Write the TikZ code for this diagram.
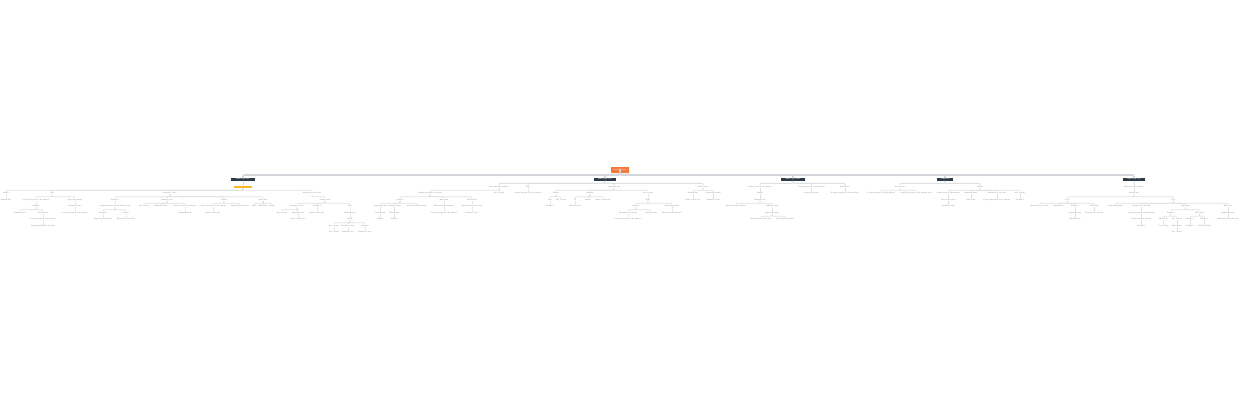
\documentclass[tikz,border=0pt]{standalone}
\usepackage{tikz}
\definecolor{rootorange}{HTML}{F5793B}
\definecolor{headdark}{HTML}{2E3A46}
\definecolor{hiliteyellow}{HTML}{F7B924}
\definecolor{linkgray}{HTML}{DDE0E3}
\definecolor{trunkgray}{HTML}{D3D7DB}
\definecolor{leaftext}{HTML}{777777}
\begin{document}
\begin{tikzpicture}[x=1mm,y=-1mm,
    leaf/.style={font=\fontsize{5}{6}\selectfont\sffamily, text=leaftext, fill=white,
        rounded corners=0.6mm, inner sep=0.4mm, text height=1.5mm, text depth=0.4mm},
    head/.style={font=\fontsize{5}{6}\selectfont\sffamily\bfseries, text=white, fill=headdark,
        minimum width=#1, minimum height=2.6mm, inner sep=0.3mm},
    hilite/.style={fill=hiliteyellow, minimum width=18mm, minimum height=1.8mm, inner sep=0pt},
    topic/.style={font=\fontsize{6}{7}\selectfont\sffamily, text=white, fill=rootorange,
        minimum width=18mm, minimum height=6mm, rounded corners=0.5mm},
    link/.style={draw=linkgray, line width=0.7mm, rounded corners=1mm},
    branch/.style={link, line width=1mm},
    trunk/.style={draw=trunkgray, line width=1.7mm, rounded corners=2mm}]

\useasboundingbox (0,0) rectangle (1240,400);

\node[topic] (root) at (620,170) {Central Topic};
\node[head=24mm] (h1) at (243,179.5) {Main Topic One};
\node[head=22mm] (h2) at (605,179.5) {Main Topic Two};
\node[head=24mm] (h3) at (793,179.5) {Main Topic Three};
\node[head=16mm] (h4) at (945,179.5) {Topic Four};
\node[head=22mm] (h5) at (1134,179.5) {Main Topic Five};

\node[hilite] (y1) at (243,187) {};
\node[leaf] (a1) at (6,193) {Details};
\node[leaf] (a2) at (52,193) {Topic};
\node[leaf] (a3) at (170,193) {Example of topic};
\node[leaf] (a4) at (312,193) {Description of the idea};
\node[leaf] (a1a) at (6,199.5) {Related idea};
\node[leaf] (a2a) at (36,199.5) {Longer description of the subtopic};
\node[leaf] (a2b) at (75,199.5) {Supporting details};
\node[leaf] (a3a) at (115,199.5) {Example 1};
\node[leaf] (a3b) at (167,199.5) {Detailed point};
\node[leaf] (a3c) at (224,199.5) {Details};
\node[leaf] (a3d) at (263,199.5) {Main ideas};
\node[leaf] (a4a) at (325,199.5) {Further notes};
\node[leaf] (a2a1) at (36,206) {Subtopic};
\node[leaf] (a2b1) at (75,206) {Example of topic};
\node[leaf] (a3a1) at (115,206) {Longer description of this subtopic item};
\node[leaf] (a3b1) at (144,206) {Key concept};
\node[leaf] (a3b2) at (161,206) {Additional detail};
\node[leaf] (a3b3) at (185,206) {Further notes on the subtopic};
\node[leaf] (a3c1) at (213,206) {Longer description of the subtopic};
\node[leaf] (a3c2) at (240,206) {Supporting information};
\node[leaf] (a3d1) at (254,206) {Topic};
\node[leaf] (a3d2) at (263,206) {Main ideas};
\node[leaf] (a3d3) at (272,206) {Details};
\node[leaf] (a4a1) at (297,206) {Example of topic};
\node[leaf] (a4a2) at (317,206) {Example 1};
\node[leaf] (a4a3) at (350,206) {Item};
\node[leaf] (a2a1a) at (20,212.5) {Detailed point};
\node[leaf] (a2a1b) at (43,212.5) {Related idea};
\node[leaf] (a2b1a) at (75,212.5) {Longer description of the subtopic};
\node[leaf] (a3a1a) at (103,212.5) {Example 1};
\node[leaf] (a3a1b) at (126,212.5) {Details};
\node[leaf] (a3b3a) at (185,212.5) {Additional detail};
\node[leaf] (a3c1a) at (213,212.5) {Notes on this topic};
\node[leaf] (a4a1a) at (282,212.5) {Key concept};
\node[leaf] (a4a1b) at (298,212.5) {Supporting idea};
\node[leaf] (a4a2a) at (317,212.5) {Notes on this topic};
\node[leaf] (a4a3a) at (350,212.5) {Detailed point};
\node[leaf] (a2a1b1) at (43,219) {Longer description of the subtopic};
\node[leaf] (a3a1a1) at (103,219) {Supporting information};
\node[leaf] (a3a1b1) at (126,219) {Description of the idea};
\node[leaf] (a4a1b1) at (298,219) {Notes on this topic};
\node[leaf] (a4a3a1) at (350,219) {Details};
\node[leaf] (a2a1b1a) at (43,225.5) {Supporting details for the idea};
\node[leaf] (a4a3a1a) at (334,225.5) {Key concept};
\node[leaf] (a4a3a1b) at (348,225.5) {Example of topic};
\node[leaf] (a4a3a1c) at (365,225.5) {Subtopic};
\node[leaf] (a4a3a1a1) at (334,232) {Key concept};
\node[leaf] (a4a3a1b1) at (348,232) {Detailed point};
\node[leaf] (a4a3a1c1) at (365,232) {Example of topic};

\node[leaf] (b1) at (499,187) {Notes about the subtopic};
\node[leaf] (b2) at (528,187) {Topic};
\node[leaf] (b3) at (614,187) {Supporting idea};
\node[leaf] (b4) at (703,187) {Further notes};
\node[leaf] (b1a) at (430,193) {Supporting details for the idea};
\node[leaf] (b1b) at (499,193) {Key concept};
\node[leaf] (b2a) at (528,193) {Longer description of the subtopic};
\node[leaf] (b3a) at (556,193) {Details};
\node[leaf] (b3b) at (590,193) {Summary};
\node[leaf] (b3c) at (648,193) {Key concept};
\node[leaf] (b4a) at (693,193) {Related idea};
\node[leaf] (b4b) at (713.5,193) {Supporting details};
\node[leaf] (b1a1) at (400,199.5) {Subtopic};
\node[leaf] (b1a2) at (444,199.5) {Main ideas};
\node[leaf] (b1a3) at (472,199.5) {Related idea};
\node[leaf] (b3a1) at (550,199.5) {Item};
\node[leaf] (b3a2) at (561,199.5) {Key concept};
\node[leaf] (b3b1) at (575,199.5) {Tip};
\node[leaf] (b3b2) at (588,199.5) {Details};
\node[leaf] (b3b3) at (603,199.5) {Notes on this topic};
\node[leaf] (b3c1) at (648,199.5) {Topic};
\node[leaf] (b4a1) at (693,199.5) {Notes on this topic};
\node[leaf] (b4b1) at (713.5,199.5) {Example of topic};
\node[leaf] (b1a1a) at (380.5,206) {Supporting idea};
\node[leaf] (b1a1b) at (394.5,206) {Example of topic};
\node[leaf] (b1a1c) at (417,206) {Notes about the subtopic};
\node[leaf] (b1a2a) at (444,206) {Notes about the subtopic};
\node[leaf] (b1a3a) at (472,206) {Detailed notes on the topic};
\node[leaf] (b3a1a) at (550,206) {Example 1};
\node[leaf] (b3b1a) at (575,206) {Detailed point};
\node[leaf] (b3c1a) at (636,206) {Subtopic};
\node[leaf] (b3c1b) at (672,206) {Supporting details};
\node[leaf] (b1a1a1) at (380.5,212.5) {Related idea};
\node[leaf] (b1a1b1) at (394.5,212.5) {Related idea};
\node[leaf] (b1a2a1) at (444,212.5) {Longer description of the subtopic};
\node[leaf] (b1a3a1) at (472,212.5) {Example of topic};
\node[leaf] (b3c1a1) at (628,212.5) {Description of the idea};
\node[leaf] (b3c1a2) at (651,212.5) {Detailed point};
\node[leaf] (b3c1b1) at (672,212.5) {Notes about the subtopic};
\node[leaf] (b1a1a1a) at (380.5,219) {Subtopic};
\node[leaf] (b1a1b1a) at (394.5,219) {Subtopic};
\node[leaf] (b3c1a1a) at (628,219) {Longer description of the subtopic};

\node[leaf] (c1) at (760,187) {Further notes on the subtopic};
\node[leaf] (c2) at (811.5,187) {Longer description of the subtopic};
\node[leaf] (c3) at (845,187) {Related idea};
\node[leaf] (c1a) at (760,193) {Details};
\node[leaf] (c2a) at (811.5,193) {Supporting details};
\node[leaf] (c3a) at (845,193) {A longer description of this subtopic};
\node[leaf] (c1a1) at (760,199.5) {Detailed point};
\node[leaf] (c1a1a) at (736,206) {Notes about the subtopic};
\node[leaf] (c1a1b) at (772,206) {Additional detail};
\node[leaf] (c1a1b1) at (772,212.5) {Supporting details};
\node[leaf] (c1a1b1a) at (761,219) {Detailed notes on the topic};
\node[leaf] (c1a1b1b) at (785,219) {Supporting information};

\node[leaf] (d1) at (900,187) {Key concept};
\node[leaf] (d2) at (980,187) {Details};
\node[leaf] (d1a) at (881,193) {A longer description of this subtopic};
\node[leaf] (d1b) at (916,193) {Longer description of this subtopic item};
\node[leaf] (d2a) at (948.5,193) {Further notes on the subtopic};
\node[leaf] (d2b) at (971,193) {Additional detail};
\node[leaf] (d2c) at (997,193) {Description of the idea};
\node[leaf] (d2d) at (1020,193) {Key concept};
\node[leaf] (d2a1) at (948.5,199.5) {Notes on this topic};
\node[leaf] (d2b1) at (971,199.5) {Main ideas};
\node[leaf] (d2c1) at (997,199.5) {Longer description of the subtopic};
\node[leaf] (d2d1) at (1020,199.5) {Example 1};
\node[leaf] (d2a1a) at (948.5,206) {Example of topic};

\node[leaf] (e1) at (1134,187) {Notes about the subtopic};
\node[leaf] (e1a) at (1134,193) {Related idea};
\node[leaf] (e1a1) at (1067.5,199.5) {Topic};
\node[leaf] (e1a2) at (1173.5,199.5) {Topic};
\node[leaf] (e1a1a) at (1039.5,206) {Description of the idea};
\node[leaf] (e1a1b) at (1058.5,206) {Related idea};
\node[leaf] (e1a1c) at (1075,206) {Example 1};
\node[leaf] (e1a1d) at (1094.5,206) {Main ideas};
\node[leaf] (e1a2a) at (1115.5,206) {Supporting details};
\node[leaf] (e1a2b) at (1141.5,206) {Description of the idea};
\node[leaf] (e1a2c) at (1185.5,206) {Main ideas};
\node[leaf] (e1a2d) at (1228,206) {Main ideas};
\node[leaf] (e1a1c1) at (1075,212.5) {Supporting idea};
\node[leaf] (e1a1d1) at (1094.5,212.5) {Description of the idea};
\node[leaf] (e1a2b1) at (1141.5,212.5) {Longer description of the subtopic};
\node[leaf] (e1a2c1) at (1170.5,212.5) {Subtopic};
\node[leaf] (e1a2c2) at (1199.5,212.5) {Main ideas};
\node[leaf] (e1a2d1) at (1228,212.5) {Additional detail};
\node[leaf] (e1a1c1a) at (1075,219) {Detailed point};
\node[leaf] (e1a2b1a) at (1141.5,219) {Notes about the subtopic};
\node[leaf] (e1a2c1a) at (1163.5,219) {Main ideas};
\node[leaf] (e1a2c1b) at (1177,219) {Key concept};
\node[leaf] (e1a2c2a) at (1190,219) {Example 1};
\node[leaf] (e1a2c2b) at (1204.5,219) {Example 1};
\node[leaf] (e1a2d1a) at (1228,219) {Detailed notes on the topic};
\node[leaf] (e1a2b1a1) at (1141.5,225.5) {Example 1};
\node[leaf] (e1a2c1a1) at (1163.5,225.5) {Key concept};
\node[leaf] (e1a2c1b1) at (1177,225.5) {Related idea};
\node[leaf] (e1a2c2a1) at (1190,225.5) {Example 1};
\node[leaf] (e1a2c2b1) at (1204.5,225.5) {Additional detail};
\node[leaf] (e1a2c1b1a) at (1177,232) {Key concept};

\foreach \c in {h1,h2,h3,h4,h5}
    \draw[trunk] (root.south) |- ([yshift=3.2mm]\c.north) -- (\c.north);
\draw[branch] (h1) -- (y1);
\foreach \p/\c in {h2/b1,h2/b2,h2/b3,h2/b4,h3/c1,h3/c2,h3/c3,h4/d1,h4/d2,h5/e1}
    \draw[branch] (\p.south) |- ([yshift=2.3mm]\c.north) -- (\c.north);
\foreach \p/\c in {y1/a1,y1/a2,y1/a3,y1/a4,a1/a1a,a2/a2a,a2/a2b,a2a/a2a1,a2a1/a2a1a,a2a1/a2a1b,
        a2a1b/a2a1b1,a2a1b1/a2a1b1a,a2b/a2b1,a2b1/a2b1a,a3/a3a,a3/a3b,a3/a3c,a3/a3d,a3a/a3a1,
        a3a1/a3a1a,a3a1/a3a1b,a3a1a/a3a1a1,a3a1b/a3a1b1,a3b/a3b1,a3b/a3b2,a3b/a3b3,a3b3/a3b3a,
        a3c/a3c1,a3c/a3c2,a3c1/a3c1a,a3d/a3d1,a3d/a3d2,a3d/a3d3,a4/a4a,a4a/a4a1,a4a/a4a2,a4a/a4a3,
        a4a1/a4a1a,a4a1/a4a1b,a4a1b/a4a1b1,a4a2/a4a2a,a4a3/a4a3a,a4a3a/a4a3a1,a4a3a1/a4a3a1a,
        a4a3a1/a4a3a1b,a4a3a1/a4a3a1c,a4a3a1a/a4a3a1a1,a4a3a1b/a4a3a1b1,a4a3a1c/a4a3a1c1,
        b1/b1a,b1/b1b,b2/b2a,b3/b3a,b3/b3b,b3/b3c,b4/b4a,b4/b4b,b1a/b1a1,b1a/b1a2,b1a/b1a3,
        b1a1/b1a1a,b1a1/b1a1b,b1a1/b1a1c,b1a1a/b1a1a1,b1a1a1/b1a1a1a,b1a1b/b1a1b1,b1a1b1/b1a1b1a,
        b1a2/b1a2a,b1a2a/b1a2a1,b1a3/b1a3a,b1a3a/b1a3a1,b3a/b3a1,b3a/b3a2,b3a1/b3a1a,b3b/b3b1,
        b3b/b3b2,b3b/b3b3,b3b1/b3b1a,b3c/b3c1,b3c1/b3c1a,b3c1/b3c1b,b3c1a/b3c1a1,b3c1a/b3c1a2,
        b3c1a1/b3c1a1a,b3c1b/b3c1b1,b4a/b4a1,b4b/b4b1,
        c1/c1a,c1a/c1a1,c1a1/c1a1a,c1a1/c1a1b,c1a1b/c1a1b1,c1a1b1/c1a1b1a,c1a1b1/c1a1b1b,c2/c2a,c3/c3a,
        d1/d1a,d1/d1b,d2/d2a,d2/d2b,d2/d2c,d2/d2d,d2a/d2a1,d2a1/d2a1a,d2b/d2b1,d2c/d2c1,d2d/d2d1,
        e1/e1a,e1a/e1a1,e1a/e1a2,e1a1/e1a1a,e1a1/e1a1b,e1a1/e1a1c,e1a1/e1a1d,e1a1c/e1a1c1,
        e1a1c1/e1a1c1a,e1a1d/e1a1d1,e1a2/e1a2a,e1a2/e1a2b,e1a2/e1a2c,e1a2/e1a2d,e1a2b/e1a2b1,
        e1a2b1/e1a2b1a,e1a2b1a/e1a2b1a1,e1a2c/e1a2c1,e1a2c/e1a2c2,e1a2c1/e1a2c1a,e1a2c1/e1a2c1b,
        e1a2c1a/e1a2c1a1,e1a2c1b/e1a2c1b1,e1a2c1b1/e1a2c1b1a,e1a2c2/e1a2c2a,e1a2c2/e1a2c2b,
        e1a2c2a/e1a2c2a1,e1a2c2b/e1a2c2b1,e1a2d/e1a2d1,e1a2d1/e1a2d1a}
    \draw[link] (\p.south) |- ([yshift=1.3mm]\c.north) -- (\c.north);

\end{tikzpicture}
\end{document}
